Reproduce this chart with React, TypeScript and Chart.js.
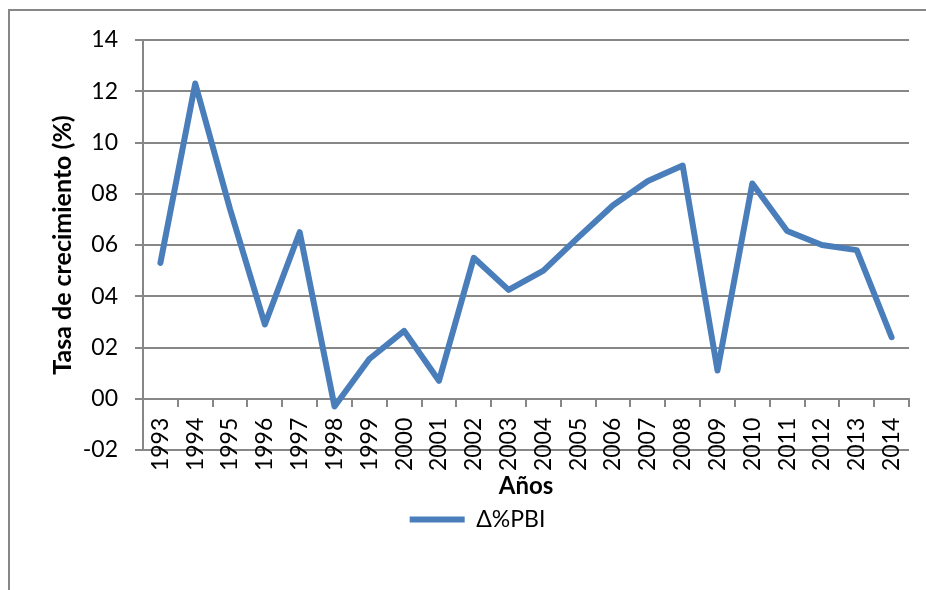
import React, { useEffect, useRef } from 'react';
import { Chart, registerables } from 'chart.js';

Chart.register(...registerables);

const years = ['1993', '1994', '1995', '1996', '1997', '1998', '1999', '2000', '2001', '2002', '2003', '2004', '2005', '2006', '2007', '2008', '2009', '2010', '2011', '2012', '2013', '2014'];
const growth = [5.3, 12.3, 7.4, 2.9, 6.5, -0.3, 1.55, 2.65, 0.7, 5.5, 4.25, 5.0, 6.3, 7.55, 8.5, 9.1, 1.1, 8.4, 6.55, 6.0, 5.8, 2.4];
const seriesLabel = 'Δ%PBI';
const yTitle = 'Tasa de crecimiento (%)';
const xTitle = 'Años';
const yMin = -2;
const yMax = 14;
const yStep = 2;

const GRID = '#878787';
const LINE = '#4a7ebb';
const FONT = 'Lato, "Open Sans", sans-serif';

function fmtTick(v: number): string {
  const s = String(Math.abs(v)).padStart(2, '0');
  return (v < 0 ? '-' : '') + s;
}

export default function App() {
  const ref = useRef<HTMLCanvasElement | null>(null);

  useEffect(() => {
    if (!ref.current) return;
    const chart = new Chart(ref.current, {
      type: 'line',
      data: {
        labels: years,
        datasets: [
          {
            label: seriesLabel,
            data: growth,
            borderColor: LINE,
            backgroundColor: LINE,
            borderWidth: 6,
            borderCapStyle: 'round',
            borderJoinStyle: 'round',
            pointRadius: 0,
            pointHoverRadius: 0,
            tension: 0,
          },
        ],
      },
      options: {
        responsive: false,
        animation: false,
        events: [],
        layout: { padding: { left: 46, right: 17, top: 40, bottom: 49 } },
        plugins: {
          tooltip: { enabled: false },
          legend: {
            display: true,
            position: 'bottom',
            labels: {
              usePointStyle: true,
              pointStyle: 'line',
              pointStyleWidth: 55,
              padding: 58,
              color: '#000',
              font: { family: FONT, size: 23 },
            },
          },
        },
        scales: {
          x: {
            type: 'category',
            axis: 'x',
            position: { y: 0 },
            offset: true,
            afterFit: (scale: any) => {
              scale.paddingLeft = 0;
              scale.paddingRight = 0;
            },
            grid: {
              display: true,
              drawOnChartArea: false,
              drawTicks: true,
              tickLength: 7,
              offset: true,
              color: GRID,
              lineWidth: 2,
            },
            border: { display: true, color: GRID, width: 2 },
            ticks: {
              autoSkip: false,
              minRotation: 90,
              maxRotation: 90,
              padding: 12,
              color: '#000',
              font: { family: FONT, size: 23 },
            },
            title: {
              display: true,
              text: xTitle,
              color: '#000',
              font: { family: FONT, size: 24, weight: 'bold' },
              padding: { top: -11, bottom: 0 },
            },
          },
          y: {
            type: 'linear',
            position: 'left',
            min: yMin,
            max: yMax,
            afterFit: (scale: any) => {
              scale.width = 97;
            },
            grid: {
              display: true,
              color: GRID,
              lineWidth: 2,
              drawTicks: true,
              tickLength: 8,
            },
            border: { display: true, color: GRID, width: 2 },
            ticks: {
              stepSize: yStep,
              padding: 17,
              color: '#000',
              font: { family: FONT, size: 23 },
              callback: (v: any) => fmtTick(Number(v)),
            },
            title: {
              display: true,
              text: yTitle,
              color: '#000',
              font: { family: FONT, size: 25, weight: 'bold' },
              padding: { top: 2, bottom: 0 },
            },
          },
        },
      },
    } as any);
    return () => chart.destroy();
  }, []);

  return (
    <div style={{ position: 'absolute', left: 0, top: 0, width: 926, height: 590, overflow: 'hidden', background: '#fff' }}>
      <div
        style={{
          position: 'absolute',
          left: 8,
          top: 9,
          width: 1200,
          height: 1200,
          borderLeft: `2px solid ${GRID}`,
          borderTop: `2px solid ${GRID}`,
        }}
      />
      <canvas ref={ref} width={926} height={590} style={{ position: 'absolute', left: 0, top: 0 }} />
    </div>
  );
}
